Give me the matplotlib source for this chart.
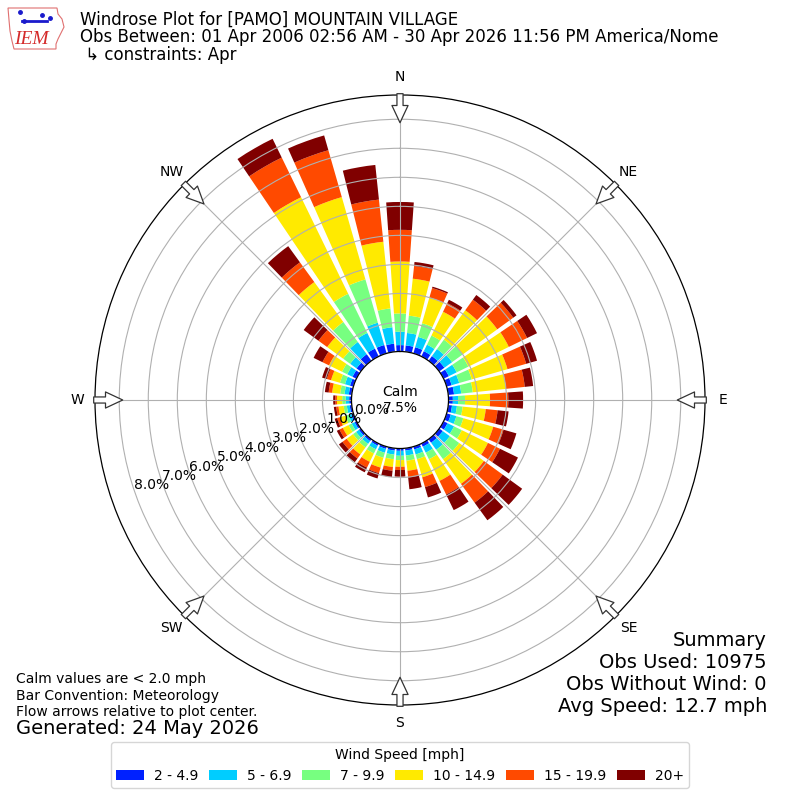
import numpy as np
import matplotlib
matplotlib.use("Agg")
import matplotlib.pyplot as plt
from matplotlib.patches import Patch, Polygon
from matplotlib.lines import Line2D

# ---------------- data ----------------
directions = list(range(0, 360, 10))
speed_labels = ["2 - 4.9", "5 - 6.9", "7 - 9.9", "10 - 14.9", "15 - 19.9", "20+"]

# frequency (%) per direction for each speed bin
spd_2_5 = [0.22, 0.22, 0.22, 0.20, 0.20, 0.22, 0.20, 0.18, 0.20, 0.15, 0.13, 0.15,
           0.15, 0.15, 0.15, 0.12, 0.10, 0.08, 0.08, 0.08, 0.08, 0.08, 0.08, 0.08,
           0.07, 0.07, 0.07, 0.08, 0.10, 0.12, 0.15, 0.18, 0.28, 0.30, 0.30, 0.28]
spd_5_7 = [0.46, 0.43, 0.37, 0.25, 0.30, 0.33, 0.30, 0.27, 0.25, 0.18, 0.17, 0.20,
           0.25, 0.30, 0.30, 0.23, 0.18, 0.17, 0.17, 0.14, 0.14, 0.14, 0.12, 0.12,
           0.11, 0.10, 0.10, 0.12, 0.15, 0.18, 0.20, 0.27, 0.52, 0.60, 0.80, 0.57]
spd_7_10 = [0.63, 0.60, 0.49, 0.35, 0.40, 0.45, 0.45, 0.45, 0.40, 0.24, 0.20, 0.25,
            0.30, 0.40, 0.40, 0.25, 0.17, 0.18, 0.15, 0.16, 0.18, 0.16, 0.15, 0.13,
            0.12, 0.11, 0.11, 0.12, 0.15, 0.18, 0.20, 0.30, 0.85, 1.50, 1.55, 0.65]
spd_10_15 = [1.79, 1.28, 0.92, 0.91, 1.25, 1.47, 1.55, 1.28, 1.15, 0.86, 0.80, 1.07,
             1.00, 1.05, 1.05, 0.83, 0.65, 0.35, 0.23, 0.27, 0.35, 0.32, 0.30, 0.27,
             0.22, 0.20, 0.18, 0.18, 0.28, 0.32, 0.50, 0.68, 1.70, 3.70, 2.95, 2.31]
spd_15_20 = [1.09, 0.44, 0.34, 0.33, 0.45, 0.68, 0.70, 0.67, 0.65, 0.63, 0.41, 0.37,
             0.46, 0.80, 0.80, 0.52, 0.35, 0.23, 0.11, 0.13, 0.20, 0.22, 0.17, 0.18,
             0.13, 0.10, 0.08, 0.06, 0.12, 0.15, 0.25, 0.37, 0.84, 1.52, 1.68, 1.46]
spd_20p = [0.96, 0.14, 0.05, 0.13, 0.20, 0.14, 0.38, 0.39, 0.29, 0.51, 0.38, 0.46,
           0.69, 0.83, 0.75, 0.60, 0.37, 0.41, 0.23, 0.22, 0.19, 0.18, 0.16, 0.15,
           0.10, 0.09, 0.08, 0.07, 0.13, 0.17, 0.34, 0.63, 0.69, 0.72, 0.53, 1.20]

calm_pct = 7.5
r_ticks = [0, 1, 2, 3, 4, 5, 6, 7, 8]
compass_angles = [0, 45, 90, 135, 180, 225, 270, 315]
compass_labels = ["N", "NE", "E", "SE", "S", "SW", "W", "NW"]

summary_lines = ["Summary", "Obs Used: 10975", "Obs Without Wind: 0",
                 "Avg Speed: 12.7 mph"]

# ---------------- figure ----------------
fig = plt.figure(figsize=(8, 8), dpi=100)
ax = fig.add_axes([95 / 800, 95 / 800, 610 / 800, 610 / 800], projection="polar")
ax.set_theta_zero_location("N")
ax.set_theta_direction(-1)

colors = plt.get_cmap("jet")(np.linspace(0.16, 1.0, 6))
theta = np.deg2rad(directions)
width = np.deg2rad(10) * 0.8
bins = [spd_2_5, spd_5_7, spd_7_10, spd_10_15, spd_15_20, spd_20p]
bottom = np.zeros(len(directions))
for vals, col in zip(bins, colors):
    vals = np.asarray(vals)
    ax.bar(theta, vals, width=width, bottom=bottom, color=col, linewidth=0,
           align="center", zorder=1)
    bottom = bottom + vals

ax.set_ylim(0, 8.835)
ax.set_rorigin(-1.671)
ax.set_yticks(r_ticks)
ax.set_yticklabels([])
ax.set_thetagrids(compass_angles, labels=[""] * len(compass_angles))
ax.grid(True, color="#b0b0b0", linewidth=0.8)
for sp in ax.spines.values():
    sp.set_color("black")
    sp.set_linewidth(0.9)

# radial labels
for t in r_ticks:
    ax.text(np.deg2rad(251), t - 0.63, f"{t:.1f}%", ha="center", va="center",
            fontsize=10, zorder=5)

# compass labels and arrows
for ang, lab in zip(compass_angles, compass_labels):
    th = np.deg2rad(ang)
    ax.text(th, 9.456, lab, ha="center", va="center", fontsize=10)
    ax.annotate("", xy=(th, 7.88), xytext=(th, 8.88), annotation_clip=False,
                arrowprops=dict(arrowstyle="simple,head_length=0.62,head_width=0.58,tail_width=0.22",
                                fc="white", ec="#333333", lw=0.9, shrinkA=0, shrinkB=0,
                                mutation_scale=20), zorder=6)

ax.text(0.5, 0.5, f"Calm\n{calm_pct:.1f}%", transform=ax.transAxes, ha="center",
        va="center", fontsize=10, zorder=6)

# ---------------- texts ----------------
def fy(px):
    return 1 - px / 800

fig.text(80 / 800, fy(20), "Windrose Plot for [PAMO] MOUNTAIN VILLAGE", fontsize=12, va="center")
fig.text(80 / 800, fy(37.5), "Obs Between: 01 Apr 2006 02:56 AM - 30 Apr 2026 11:56 PM America/Nome",
         fontsize=12, va="center")
fig.text(80 / 800, fy(55), " \u21b3 constraints: Apr", fontsize=12, va="center")

# simple IEM logo
logo_outline = [(8, 8), (57, 8), (58, 14), (62, 19), (64, 27), (61, 33), (58, 39),
                (56, 44), (56, 49), (14, 49), (12, 41), (10, 31), (9, 20)]
fig.patches.append(Polygon([(x / 800, fy(y)) for x, y in logo_outline], closed=True,
                           transform=fig.transFigure, fill=False, ec="#e07070", lw=0.8))
fig.lines.append(Line2D([22 / 800, 47 / 800], [fy(21), fy(21)], transform=fig.transFigure,
                        color="#1a1acc", lw=2))
fig.lines.append(Line2D([20 / 800, 24 / 800, 42 / 800, 50 / 800],
                        [fy(12), fy(21), fy(15), fy(18)], transform=fig.transFigure,
                        color="#1a1acc", lw=0, marker="o", ms=2.5))
fig.text(31 / 800, fy(39), "IEM", color="#d42a2a", fontsize=14, fontstyle="italic",
         family="Liberation Serif", ha="center", va="center")

fig.text(16 / 800, fy(679), "Calm values are < 2.0 mph", fontsize=10, va="center")
fig.text(16 / 800, fy(696), "Bar Convention: Meteorology", fontsize=10, va="center")
fig.text(16 / 800, fy(712), "Flow arrows relative to plot center.", fontsize=10, va="center")
fig.text(16 / 800, fy(729), "Generated: 24 May 2026", fontsize=14, va="center")

for i, line in enumerate(summary_lines):
    fig.text(767 / 800, fy(640 + 22 * i), line, fontsize=14, ha="right", va="center")

handles = [Patch(facecolor=c, edgecolor="none") for c in colors]
fig.legend(handles, speed_labels, loc="lower center", bbox_to_anchor=(0.5, 5 / 800),
           ncol=6, fontsize=10, title="Wind Speed [mph]", title_fontsize=10,
           columnspacing=0.8, handletextpad=0.7)

fig.savefig("out.png", dpi=100)
